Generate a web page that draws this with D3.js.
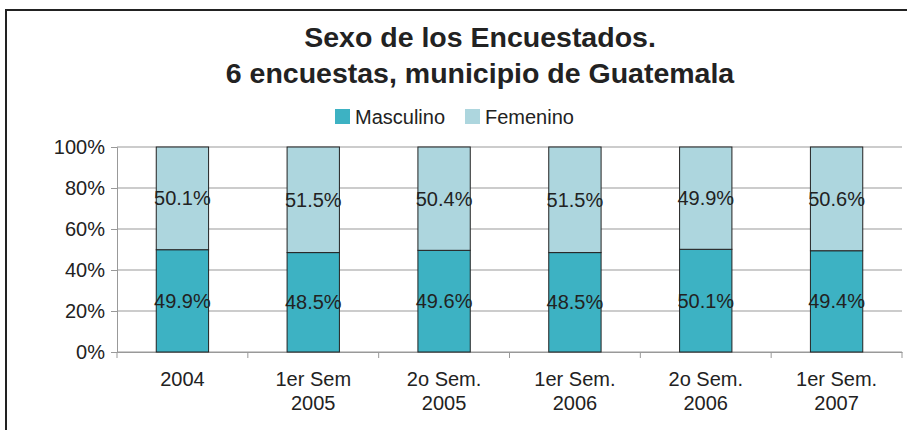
<!DOCTYPE html>
<html>
<head>
<meta charset="utf-8">
<script src="https://cdn.jsdelivr.net/npm/d3@7"></script>
<style>
    body { margin: 0; background: #fff; }
    svg text { font-family: 'Liberation Sans', Arial, sans-serif; fill: #222; }
</style>
</head>
<body>
<div id="chart"></div>
<script>
//Datos
let categorias = ['2004', '1er Sem|2005', '2o Sem.|2005', '1er Sem.|2006', '2o Sem.|2006', '1er Sem.|2007'];
let masculino = [49.9, 48.5, 49.6, 48.5, 50.1, 49.4];
let femenino = [50.1, 51.5, 50.4, 51.5, 49.9, 50.6];
let series = ['Masculino', 'Femenino'];
let ticksY = [0, 20, 40, 60, 80, 100];
let titulo = ['Sexo de los Encuestados.', '6 encuestas, municipio de Guatemala'];

const COLOR_MASC = '#3DB2C3',
COLOR_FEM = '#ADD6DE';

let data = categorias.map(function(d, i) {
    return { Periodo: d, Masculino: masculino[i], Femenino: femenino[i] };
});

let margin = {top: 147, right: 5, bottom: 78, left: 117},
    width = 907 - margin.left - margin.right,
    height = 430 - margin.top - margin.bottom;

let root = d3.select('#chart')
    .append('svg')
    .attr('width', 907)
    .attr('height', 430);

//Marco
root.append('rect')
    .attr('x', 6).attr('y', 10)
    .attr('width', 1000).attr('height', 1000)
    .attr('fill', 'none')
    .attr('stroke', '#222')
    .attr('stroke-width', 2);

//Título
root.selectAll('.titulo')
    .data(titulo)
    .enter()
    .append('text')
    .attr('class', 'titulo')
    .attr('x', 480)
    .attr('y', function(d, i) { return 47 + i * 36; })
    .attr('text-anchor', 'middle')
    .style('font-size', '28.5px')
    .style('font-weight', 'bold')
    .text(function(d) { return d; });

let color = d3.scaleOrdinal()
    .domain(series)
    .range([COLOR_MASC, COLOR_FEM]);

//Leyenda
let legendX = [335, 465];
let legend = root.selectAll('.leyenda')
    .data(series)
    .enter()
    .append('g')
    .attr('class', 'leyenda')
    .attr('transform', function(d, i) { return 'translate(' + legendX[i] + ',109)'; });

legend.append('rect')
    .attr('width', 15).attr('height', 15)
    .attr('fill', function(d) { return color(d); });

legend.append('text')
    .attr('x', 20).attr('y', 15)
    .style('font-size', '20px')
    .text(function(d) { return d; });

let svg = root.append('g')
    .attr('transform', 'translate(' + margin.left + ',' + margin.top + ')');

//Eje Y
let y = d3.scaleLinear()
    .domain([0, 100])
    .range([height, 0]);

let yAxis = function(g) {
    g.call(d3.axisLeft(y).tickValues(ticksY).tickSize(6).tickFormat(function(d) { return d + '%'; }));
    g.select('.domain').attr('stroke', '#999');
    g.selectAll('.tick line').attr('stroke', '#999');
    g.selectAll('.tick text').attr('x', -12).style('font-size', '20px').attr('fill', '#222');
};

//Rejilla
svg.append('g')
    .selectAll('line')
    .data(ticksY)
    .enter()
    .append('line')
    .attr('x1', 0).attr('x2', width)
    .attr('y1', function(d) { return y(d); })
    .attr('y2', function(d) { return y(d); })
    .attr('stroke', '#999');

//Eje X
let x = d3.scaleBand()
    .domain(categorias)
    .range([0, width]);

let xAxis = function(g) {
    g.call(d3.axisBottom(x).tickSize(0).tickFormat(''));
    g.select('.domain').attr('stroke', '#999');
};

svg.append('g')
    .attr('transform', 'translate(0,' + height + ')')
    .call(xAxis);

//Marcas del eje X entre categorías
svg.append('g')
    .selectAll('line')
    .data(d3.range(categorias.length + 1))
    .enter()
    .append('line')
    .attr('x1', function(d) { return d * x.step(); })
    .attr('x2', function(d) { return d * x.step(); })
    .attr('y1', height).attr('y2', height + 6)
    .attr('stroke', '#999');

//Etiquetas del eje X
let labels = svg.append('g')
    .selectAll('text')
    .data(categorias)
    .enter()
    .append('text')
    .attr('text-anchor', 'middle')
    .attr('transform', function(d) { return 'translate(' + (x(d) + x.bandwidth() / 2) + ',' + (height + 34) + ')'; })
    .style('font-size', '20px');

labels.selectAll('tspan')
    .data(function(d) { return d.split('|'); })
    .enter()
    .append('tspan')
    .attr('x', 0)
    .attr('dy', function(d, i) { return i == 0 ? 0 : 24; })
    .text(function(d) { return d; });

svg.append('g').call(yAxis);

let stacked = d3.stack()
    .keys(series)
    (data);

let barW = x.bandwidth() * 0.4;

//Barras
let grupos = svg.append('g')
    .selectAll('g')
    .data(stacked)
    .enter()
    .append('g')
    .attr('fill', function(d) { return color(d.key); });

grupos.selectAll('rect')
    .data(function(d) { return d; })
    .enter()
    .append('rect')
    .attr('x', function(d) { return x(d.data.Periodo) + (x.bandwidth() - barW) / 2; })
    .attr('y', function(d) { return y(d[1]); })
    .attr('width', barW)
    .attr('height', function(d) { return y(d[0]) - y(d[1]); })
    .attr('stroke', '#222')
    .attr('stroke-width', 1);

//Etiquetas de valores
grupos.selectAll('text')
    .data(function(d) { return d.map(function(v) { return { v: v, key: d.key }; }); })
    .enter()
    .append('text')
    .attr('x', function(d) { return x(d.v.data.Periodo) + x.bandwidth() / 2; })
    .attr('y', function(d) { return (y(d.v[0]) + y(d.v[1])) / 2 + 7; })
    .attr('text-anchor', 'middle')
    .style('font-size', '20px')
    .style('fill', '#222')
    .text(function(d) { return d.v.data[d.key].toFixed(1) + '%'; });
</script>
</body>
</html>
